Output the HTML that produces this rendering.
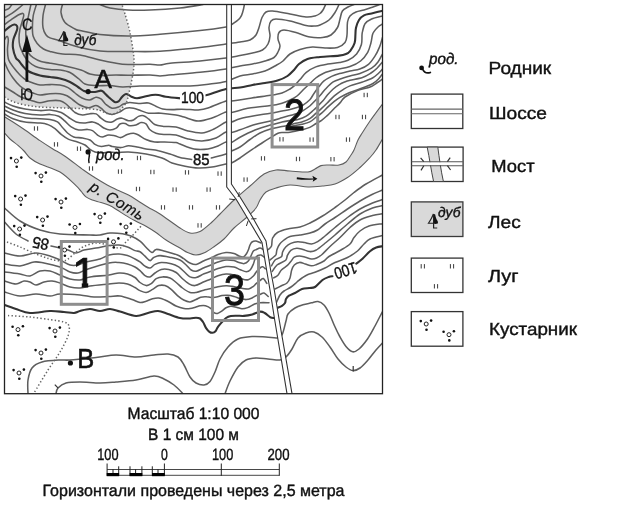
<!DOCTYPE html>
<html lang="ru"><head><meta charset="utf-8"><title>Топографическая карта</title>
<style>
html,body{margin:0;padding:0;background:#fff}
body{width:639px;height:506px;overflow:hidden;font-family:'Liberation Sans',sans-serif}
svg{display:block;filter:grayscale(1)}
text{fill:#111;stroke:#111;stroke-width:.4px}
text.num{stroke-width:.9px}
text.pt{stroke-width:.6px}
text.lt{stroke-width:.2px}
</style></head><body>
<svg width="639" height="506" viewBox="0 0 639 506" font-family="'Liberation Sans', sans-serif" text-rendering="geometricPrecision">
<rect width="639" height="506" fill="#fff"/>
<defs>
<clipPath id="mapclip"><rect x="4.5" y="4.5" width="378.0" height="389.2"/></clipPath>
<g id="mw"><path d="M-1.6 -2.2V2.2M1.6 -2.2V2.2" stroke="#222" stroke-width="0.9" fill="none"/></g>
<g id="bu"><circle r="2" fill="#fff" stroke="#222" stroke-width="1"/><circle cx="-5.4" cy="-2.9" r="1.3" fill="#111"/><circle cx="4.9" cy="-3.4" r="1.3" fill="#111"/><circle cx="0.3" cy="5.7" r="1.3" fill="#111"/></g>
<g id="tree"><path d="M-0.3 -14C-1.2 -11 -3 -8 -5.2 -4.7H0" fill="none" stroke="#222" stroke-width="1.1"/><path d="M-0.5 -14.2L1.6 -13.4C2 -11 2.6 -9 3.7 -7.6C4.4 -6.6 4.5 -5.6 4.2 -4.6L1.8 -3.9L-0.5 -4.4Z" fill="#111"/><path d="M0 -14V0H3.6" fill="none" stroke="#222" stroke-width="1.2"/></g>
</defs>
<g clip-path="url(#mapclip)">
<path d="M4.5 97C5.9 97.8 9.6 100.3 13 101.6C16.4 102.9 20.5 104.1 25 105C29.5 105.9 33.3 106.5 40 107C46.7 107.5 57.7 107.7 65 108C72.3 108.3 78.8 108.5 84 108.7C89.2 108.9 93.2 109.1 96 109.4C98.8 109.8 98.9 110 101 110.8C103.1 111.6 106 113.6 108.5 114C111 114.4 113.8 114 116 113C118.2 112 120.2 109.8 122 108C123.8 106.2 125.5 104.2 126.6 102C127.7 99.8 127.8 97.5 128.5 94.5C129.2 91.5 130.2 88.1 131 84C131.8 79.9 133 74 133.5 70C134 66 134.1 63.3 134 60C133.9 56.7 133.5 53.7 133 50C132.5 46.3 131.7 41.7 131 38C130.3 34.3 130 32 129 28C128 24 126.2 17.9 125 14C123.8 10.1 122.5 6.1 122 4.5L4.5 4.5L4.5 97Z" fill="#d9d9d9"/>
<path d="M4.5 116.7C5.9 117.6 9.6 119.8 13 122C16.4 124.2 20.5 126.9 25 130C29.5 133.1 35.4 137.5 40 140.6C44.6 143.7 48.3 146.1 52.5 148.7C56.7 151.3 59.8 152.6 65 156.2C70.2 159.8 78.5 166.4 83.5 170C88.5 173.6 90.8 175 94.7 177.5C98.7 180 103.5 182.9 107.2 185C111 187.1 113.7 188.3 117.2 190C120.8 191.7 125 193.1 128.5 195C132.1 196.9 135.2 199.1 138.5 201.2C141.8 203.3 144.9 205.4 148.5 207.5C152.1 209.6 154.8 210.6 160 214C165.2 217.4 175 224.8 180 228C185 231.2 186.7 232.4 190 233C193.3 233.6 196.3 233.3 200 231.5C203.7 229.7 208.7 224.9 212 222C215.3 219.1 216.3 217.7 220 214C223.7 210.3 229 204.7 234 200C239 195.3 245 190.3 250 186C255 181.7 259.7 176.7 264 174C268.3 171.3 271.7 170.5 276 170C280.3 169.5 284.7 170.7 290 171C295.3 171.3 303.8 172.3 308 172C312.2 171.7 312.8 170.1 315 169C317.2 167.9 318.7 166.3 321 165.6C323.3 164.9 326 165.1 329 165C332 164.9 336.2 165.5 339 165C341.8 164.5 344 163.7 346 162C348 160.3 349.7 157 351 155C352.3 153 352.8 152.5 354 150C355.2 147.5 356.6 142.9 358 140C359.4 137.1 360.5 135.7 362.5 132.5C364.5 129.3 366.7 125.8 370 121C373.3 116.2 380.4 106.8 382.5 104L382.5 139C381.4 140.8 378.1 146.9 376 150C373.9 153.1 372.7 154.6 370 157.5C367.3 160.4 363.8 164.2 360 167.5C356.2 170.8 351.7 174.8 347.5 177.5C343.3 180.2 339.2 182.6 335 184C330.8 185.4 327 185.5 322.5 186C318 186.5 313.4 187.2 308 187C302.6 186.8 295.3 184.8 290 185C284.7 185.2 280 186.8 276 188C272 189.2 268.7 190 266 192C263.3 194 261.7 197.3 260 200C258.3 202.7 258.3 205 256 208C253.7 211 249.7 214.7 246 218C242.3 221.3 237.7 224.5 234 228C230.3 231.5 227.2 236 224 239C220.8 242 218.2 243.8 215 246C211.8 248.2 208.2 251 205 252.5C201.8 254 198.9 255 196 255C193.1 255 190.2 253.7 187.5 252.5C184.8 251.3 183.6 250.1 180 248C176.4 245.9 170 242.6 166 240C162 237.4 159.3 234.8 156 232.5C152.7 230.2 149.3 228.1 146 226.2C142.7 224.3 139.3 223 136 221.2C132.7 219.4 129.1 217.5 126 215.6C122.9 213.7 119.9 211.7 117.2 210C114.5 208.3 112.4 206.8 109.7 205.6C107 204.3 103.9 203.4 101 202.5C98.1 201.6 94.7 200.9 92.2 200C89.7 199.1 87.9 198.4 86 196.9C84.1 195.4 82.7 193.1 81 191.2C79.3 189.3 79.5 188.8 76 185.6C72.5 182.4 66 175.6 60 172C54 168.4 45 166.3 40 164C35 161.7 32.7 160.2 30 158C27.3 155.8 26 153.1 24 151C22 148.9 20.3 147.4 18 145.4C15.7 143.4 12.2 141.1 10 139C7.8 136.9 5.4 134 4.5 133Z" fill="#d9d9d9" stroke="none"/>
<path d="M4.5 116.7C5.9 117.6 9.6 119.8 13 122C16.4 124.2 20.5 126.9 25 130C29.5 133.1 35.4 137.5 40 140.6C44.6 143.7 48.3 146.1 52.5 148.7C56.7 151.3 59.8 152.6 65 156.2C70.2 159.8 78.5 166.4 83.5 170C88.5 173.6 90.8 175 94.7 177.5C98.7 180 103.5 182.9 107.2 185C111 187.1 113.7 188.3 117.2 190C120.8 191.7 125 193.1 128.5 195C132.1 196.9 135.2 199.1 138.5 201.2C141.8 203.3 144.9 205.4 148.5 207.5C152.1 209.6 154.8 210.6 160 214C165.2 217.4 175 224.8 180 228C185 231.2 186.7 232.4 190 233C193.3 233.6 196.3 233.3 200 231.5C203.7 229.7 208.7 224.9 212 222C215.3 219.1 216.3 217.7 220 214C223.7 210.3 229 204.7 234 200C239 195.3 245 190.3 250 186C255 181.7 259.7 176.7 264 174C268.3 171.3 271.7 170.5 276 170C280.3 169.5 284.7 170.7 290 171C295.3 171.3 303.8 172.3 308 172C312.2 171.7 312.8 170.1 315 169C317.2 167.9 318.7 166.3 321 165.6C323.3 164.9 326 165.1 329 165C332 164.9 336.2 165.5 339 165C341.8 164.5 344 163.7 346 162C348 160.3 349.7 157 351 155C352.3 153 352.8 152.5 354 150C355.2 147.5 356.6 142.9 358 140C359.4 137.1 360.5 135.7 362.5 132.5C364.5 129.3 366.7 125.8 370 121C373.3 116.2 380.4 106.8 382.5 104" fill="none" stroke="#5e5e5e" stroke-width="1.1"/>
<path d="M4.5 133C5.4 134 7.8 136.9 10 139C12.2 141.1 15.7 143.4 18 145.4C20.3 147.4 22 148.9 24 151C26 153.1 27.3 155.8 30 158C32.7 160.2 35 161.7 40 164C45 166.3 54 168.4 60 172C66 175.6 72.5 182.4 76 185.6C79.5 188.8 79.3 189.3 81 191.2C82.7 193.1 84.1 195.4 86 196.9C87.9 198.4 89.7 199.1 92.2 200C94.7 200.9 98.1 201.6 101 202.5C103.9 203.4 107 204.3 109.7 205.6C112.4 206.8 114.5 208.3 117.2 210C119.9 211.7 122.9 213.7 126 215.6C129.1 217.5 132.7 219.4 136 221.2C139.3 223 142.7 224.3 146 226.2C149.3 228.1 152.7 230.2 156 232.5C159.3 234.8 162 237.4 166 240C170 242.6 176.4 245.9 180 248C183.6 250.1 184.8 251.3 187.5 252.5C190.2 253.7 193.1 255 196 255C198.9 255 201.8 254 205 252.5C208.2 251 211.8 248.2 215 246C218.2 243.8 220.8 242 224 239C227.2 236 230.3 231.5 234 228C237.7 224.5 242.3 221.3 246 218C249.7 214.7 253.7 211 256 208C258.3 205 258.3 202.7 260 200C261.7 197.3 263.3 194 266 192C268.7 190 272 189.2 276 188C280 186.8 284.7 185.2 290 185C295.3 184.8 302.6 186.8 308 187C313.4 187.2 318 186.5 322.5 186C327 185.5 330.8 185.4 335 184C339.2 182.6 343.3 180.2 347.5 177.5C351.7 174.8 356.2 170.8 360 167.5C363.8 164.2 367.3 160.4 370 157.5C372.7 154.6 373.9 153.1 376 150C378.1 146.9 381.4 140.8 382.5 139" fill="none" stroke="#5e5e5e" stroke-width="1.1"/>
<g fill="none" stroke="#5e5e5e" stroke-width="1.55" stroke-linecap="round" stroke-linejoin="round">
<path d="M4.5 10.3C5.2 10 7.5 9.7 8.7 8.7C9.9 7.7 11.4 5.2 11.9 4.5"/>
<path d="M4.5 17.8C5.7 17.1 9.6 14.9 11.9 13.4C14.2 11.9 16.3 10.2 18.2 8.7C20.1 7.2 22.2 5.2 23 4.5"/>
<path d="M100 4.5C101.7 5.1 105.3 7.1 110 8C114.7 8.9 121.3 9.7 128 10C134.7 10.3 141.3 10.3 150 10C158.7 9.7 171.2 8.9 180 8C188.8 7.1 199.2 5.1 203 4.5"/>
<path d="M62.5 4.5C62.2 5.8 60.6 9.5 61 12.5C61.4 15.5 62.7 19.8 65 22.5C67.3 25.2 72.5 27.6 75 29C77.5 30.4 75.8 29.7 80 30.6C84.2 31.5 92 33.6 100 34.5C108 35.4 118 36 128 36C138 36 148 35.2 160 34.3C172 33.4 189 31.8 200 30.6C211 29.4 220.8 27.9 226 27C231.2 26.1 228.7 26.5 231 25C233.3 23.5 238 20.3 240 18C242 15.7 242.3 13.2 243 11C243.7 8.8 244.2 5.6 244.4 4.5"/>
<path d="M45.5 4.5C45.1 6.4 43.4 11.9 43 15.8C42.6 19.7 42.5 24.5 43 27.7C43.5 30.9 44.7 33 45.9 34.7C47.1 36.4 47.8 36.9 50 37.9C52.2 38.9 54 39 59 40.6C64 42.2 73.2 45.8 80 47.5C86.8 49.2 92 50.3 100 51C108 51.7 118 51.5 128 51.5C138 51.5 148 52 160 51.3C172 50.6 189 48.7 200 47.5C211 46.3 219.3 44.9 226 44C232.7 43.1 236 42.7 240 42C244 41.3 247.3 41.2 250 40C252.7 38.8 254.5 37.1 256 35C257.5 32.9 258 30.4 259 27.5C260 24.6 260.8 20.1 262 17.5C263.2 14.9 264.2 13.1 266 12C267.8 10.9 268.5 10.7 272.5 11C276.5 11.3 284.4 13 290 14C295.6 15 301.8 16.7 306 17C310.2 17.3 312.7 16.6 315 16C317.3 15.4 318.7 14.5 320 13.5C321.3 12.5 322.1 11.5 323 10C323.9 8.5 325.2 5.4 325.6 4.5"/>
<path d="M36.4 4.5C35.9 6.4 33.9 11.9 33.2 15.8C32.5 19.7 32.4 24.3 32.4 27.7C32.4 31.1 32.4 33.7 33.2 36.3C34 38.9 35.5 41.3 37.2 43.4C38.9 45.5 41.4 47.7 43.5 49C45.6 50.3 46.8 50.6 50 51.4C53.2 52.2 57.5 53.4 62.5 54C67.5 54.6 73.8 54 80 55C86.2 56 94.2 58.7 100 60C105.8 61.3 110.3 62.2 115 63C119.7 63.8 122.2 64.3 128 64.5C133.8 64.7 144.7 64.2 150 64.3C155.3 64.4 156.7 65.2 160 65C163.3 64.8 163.3 64 170 63.3C176.7 62.6 190.7 61.9 200 61C209.3 60.1 219.3 58.9 226 58C232.7 57.1 235.6 56.4 240 55.6C244.4 54.8 248.8 53.9 252.5 53C256.2 52.1 259.9 51.5 262.5 50C265.1 48.5 266.8 46.3 268 44C269.2 41.7 269.8 38.8 270 36C270.2 33.2 268.8 30 269 27.5C269.2 25 269.8 22.4 271 21C272.2 19.6 272.8 19 276 19C279.2 19 285 19.9 290 21C295 22.1 301.8 24.8 306 25.6C310.2 26.4 312.7 26.1 315 26C317.3 25.9 317.7 26 320 25C322.3 24 326.5 22.1 329 20C331.5 17.9 333.3 15.1 335 12.5C336.7 9.9 338.3 5.8 339 4.5"/>
<path d="M30.9 4.5C30.5 6.4 29.3 11.9 28.5 15.8C27.7 19.7 26.4 23.7 26 27.7C25.6 31.7 25.8 36.2 26 39.6C26.2 43 26.6 45.8 27 48C27.4 50.2 27.5 51.4 28.5 53C29.5 54.6 31.1 56.3 33.2 57.7C35.3 59.1 38.2 60.7 41 61.6C43.8 62.5 46 62.5 50 63.2C54 63.9 59.8 64.9 65 66C70.2 67.1 76.8 68.7 81 70C85.2 71.3 86.7 73.1 90 74C93.3 74.9 96.7 75.4 101 75.6C105.3 75.8 111.5 75 116 75C120.5 75 122.3 75.3 128 75.3C133.7 75.3 144.7 74.9 150 75C155.3 75.1 156.3 76 160 76C163.7 76 165.3 75.3 172 74.7C178.7 74.1 191 73.2 200 72.3C209 71.3 219.3 70 226 69C232.7 68 235.6 66.8 240 66C244.4 65.2 248.3 64.8 252.5 64C256.7 63.2 261.4 62.1 265 61C268.6 59.9 271.8 59 274 57.5C276.2 56 277 53.9 278 52C279 50.1 280 48.2 280 46C280 43.8 278.2 41.2 278 39C277.8 36.8 278 34 279 32.5C280 31 281.2 30 284 30C286.8 30 291.7 31.3 296 32.5C300.3 33.7 305.6 36.2 310 37C314.4 37.8 319 37.8 322.5 37.5C326 37.2 328.5 36.7 331 35C333.5 33.3 336 30.2 337.5 27.5C339 24.8 339.2 21.8 340 19C340.8 16.2 341.1 13 342.4 11C343.7 9 346.1 8.1 348 7C349.9 5.9 353 4.9 354 4.5"/>
<path d="M4.5 24.5C5.6 23.7 8.7 21.4 11 19.8C13.3 18.2 16.2 16.1 18.2 15C20.2 13.9 22.1 13.3 23 13.4C23.9 13.5 23.8 14.5 23.7 15.8C23.6 17.1 22.8 19 22.2 21.4C21.6 23.8 20.3 27.2 19.8 30C19.3 32.8 19 35.4 19 38C19 40.6 19.1 43.2 19.8 45.8C20.5 48.4 22 51.6 23 53.7C24 55.8 25.1 57.2 26 58.5C26.9 59.8 26.9 60.3 28.5 61.6C30.1 62.9 32 65.1 35.6 66.4C39.2 67.7 45.9 69 50 69.6C54.1 70.2 56.7 69.5 60 70C63.3 70.5 66.8 71 70 72.5C73.2 74 76.5 77.1 79 79C81.5 80.9 82.3 82.9 85 84C87.7 85.1 90.8 85.3 95 85.6C99.2 85.9 105.4 85.4 110 85.6C114.6 85.8 117.5 86.9 122.5 87C127.5 87.1 133.8 86.2 140 86C146.2 85.8 151.7 86 160 86C168.3 86 181.7 86.2 190 85.9C198.3 85.6 204 84.7 210 84C216 83.3 221 82.8 226 81.5C231 80.2 235.6 77.2 240 76C244.4 74.8 248.3 74.8 252.5 74C256.7 73.2 261.2 72.3 265 71C268.8 69.7 272 67.7 275 66C278 64.3 280.5 63 283 61C285.5 59 287.2 55.9 290 54C292.8 52.1 296.2 50.7 300 49.5C303.8 48.3 308.3 47.2 312.5 47C316.7 46.8 320.8 47.9 325 48C329.2 48.1 334.2 48.4 337.5 47.5C340.8 46.6 343.4 44.6 345 42.5C346.6 40.4 346.6 38.4 347 35C347.4 31.6 347 25.2 347.5 22C348 18.8 348.6 17.7 350 16C351.4 14.3 353.7 13 356 12C358.3 11 361.2 10.8 364 10C366.8 9.2 370.4 7.9 373 7C375.6 6.1 378.4 4.9 379.5 4.5"/>
<path d="M4.5 39.6C4.9 39 6.4 36.2 7 36.3C7.6 36.4 8.2 38 8.3 40.3C8.4 42.5 7.4 46.5 7.5 49.8C7.6 53.1 7.6 57 8.7 60C9.8 63 12.1 65.5 14 68C15.9 70.5 18 73 20 75C22 77 23.8 78.7 26 80C28.2 81.3 30.7 82.2 33 83C35.3 83.8 37.2 84.7 40 85C42.8 85.3 46.7 84.6 50 84.6C53.3 84.6 57 84.5 60 85C63 85.5 65.5 86.3 68 87.6C70.5 88.9 72.7 91.3 75 93C77.3 94.7 79.6 96.8 82 98C84.4 99.2 87.1 100.1 89.4 100C91.7 99.9 94.1 97.4 96 97.2C97.9 97 99.3 97.7 101 98.9C102.7 100.1 104.2 103 106 104.5C107.8 106 109.9 107.8 112 108.2C114.1 108.6 116.6 107.7 118.5 107C120.4 106.3 121.6 104.7 123.5 104C125.4 103.3 127.2 102.7 129.7 102.6C132.2 102.5 135.4 103.4 138.5 103.5C141.6 103.6 145.5 102.5 148.5 103C151.5 103.5 153.9 105.5 156.3 106.5C158.7 107.5 160.1 108.5 162.7 109C165.3 109.5 168.8 109.6 172 109.6C175.2 109.6 178.6 109.2 181.6 109.2C184.6 109.2 187.3 109.5 190 109.6C192.7 109.7 195 110.3 198 110C201 109.7 203.3 109.5 208 108C212.7 106.5 222.1 102.2 226 101C229.9 99.8 227.2 101.5 231.5 101C235.8 100.5 245.3 99 251.8 98C258.3 97 265.4 96.1 270.4 95.3C275.4 94.5 278.7 94 282 92.9C285.3 91.9 287.8 90.3 290 89C292.2 87.7 293.3 86.6 295 85C296.7 83.4 298.1 81.6 300 79.5C301.9 77.4 303.7 74.5 306.3 72.4C308.9 70.3 312.2 68.3 315.8 66.9C319.4 65.5 323.7 64.8 327.7 64.1C331.7 63.4 336.2 63.1 339.6 62.5C343 61.9 345.2 61.7 348 60.3C350.8 58.9 354.4 56.6 356.6 54C358.8 51.4 360.5 47.7 361.4 44.5C362.3 41.3 361.8 37.1 362 35C362.2 32.9 362 33.5 362.5 31.6C363 29.7 363.5 25.8 365 23.7C366.5 21.6 368.7 20.3 371.6 19C374.5 17.7 380.7 16.5 382.5 16"/>
<path d="M4.5 62C5.1 63.3 6.6 67.3 8 70C9.4 72.7 11 75.3 13 78C15 80.7 17.8 84 20 86C22.2 88 23.8 88.8 26 90C28.2 91.2 30.7 92.2 33 93C35.3 93.8 37.2 94.9 40 95C42.8 95.1 46.7 93.9 50 93.7C53.3 93.5 57.2 93.4 60 93.7C62.8 94 64.8 94.7 67 95.7C69.2 96.8 70.8 98.5 73 100C75.2 101.5 77.4 103.7 80 105C82.6 106.3 85.7 107.7 88.4 107.8C91.1 107.9 93.9 105.4 96 105.5C98.1 105.6 99.3 107 101 108.2C102.7 109.4 104.2 111.5 106 112.6C107.8 113.6 109.7 114.6 112 114.5C114.3 114.4 117.4 113 119.7 112C122 111 123.7 108.8 126 108.2C128.3 107.6 131 107.8 133.5 108.2C136 108.6 138.5 109.9 141 110.7C143.5 111.5 145.2 112.8 148.5 113.2C151.8 113.6 156.4 112.9 161 113.2C165.6 113.5 172.2 114.4 176 115C179.8 115.6 180.3 116 184 117C187.7 118 193.3 120.8 198 121C202.7 121.2 207.3 119.5 212 118C216.7 116.5 222.8 112.9 226 112C229.2 111.1 227.9 113.1 231.5 112.5C235.1 111.9 241.3 109.5 247.8 108.3C254.3 107.1 264.7 106.4 270.4 105.6C276.1 104.8 278.7 104.1 282 103.2C285.3 102.3 287.5 101.2 290 100C292.5 98.8 294.8 97.7 297 96C299.2 94.3 300.8 92.2 303 90C305.2 87.8 308.2 85.1 310.3 83.1C312.4 81.1 313.6 79.7 315.8 78C318 76.3 320.4 74.6 323.7 73.2C327 71.8 331.2 70.7 335.6 69.6C340 68.5 345.8 67.9 350 66.5C354.2 65.1 357.7 63.4 360.6 61C363.6 58.6 366 55.4 367.7 52.4C369.4 49.4 370.1 45.9 370.9 43C371.7 40.1 371.9 36.9 372.4 35C372.9 33.1 373.1 32.9 374 31.6C374.9 30.3 376.6 28.3 378 27C379.4 25.7 381.8 24.5 382.5 24"/>
<path d="M4.5 87C5.9 87.8 10.2 90.3 13 92C15.8 93.7 17.7 95.5 21 97C24.3 98.5 29.8 100 33 101C36.2 102 37.2 102.8 40 102.8C42.8 102.8 46.7 101 50 100.7C53.3 100.4 57.3 100.2 60 100.7C62.7 101.2 63.5 102 66 104C68.5 106 72.2 110.7 75 112.5C77.8 114.3 80 114.8 82.5 115C85 115.2 87.7 113.9 90 113.7C92.3 113.5 94.4 113.2 96.2 113.9C98 114.7 99.4 117 101 118.2C102.6 119.5 104.2 120.8 106 121.4C107.8 122 110.1 122.4 112 122C113.9 121.6 115.5 119.5 117.2 118.9C118.9 118.3 120.1 117.9 122 118.2C123.9 118.5 126.6 120.4 128.5 120.7C130.4 121 131.8 120.7 133.5 120C135.2 119.3 136.8 117.1 138.5 116.4C140.2 115.7 141.8 115.3 143.5 115.7C145.2 116.1 146.6 117.4 148.5 118.9C150.4 120.4 152.2 123.2 154.7 124.5C157.2 125.8 159.9 126 163.5 126.4C167.1 126.8 171.9 126.2 176 127C180.1 127.8 183.7 130 188 131C192.3 132 197.7 133.3 202 133C206.3 132.7 210 130.8 214 129C218 127.2 223.1 123.2 226 122C228.9 120.8 229.2 122.5 231.5 122C233.8 121.5 236 119.8 240 118.7C244 117.6 250.6 116.4 255.7 115.5C260.8 114.6 266.1 114 270.5 113.2C274.9 112.5 278.8 111.6 282 111C285.2 110.4 287.5 110.1 290 109.5C292.5 108.9 294.9 108.2 297 107.5C299.1 106.8 300.6 106.6 302.7 105.3C304.8 104 308.1 101.4 309.8 99.7C311.5 98 311.5 97.2 313 95C314.5 92.8 317.2 88.9 319 86.6C320.8 84.3 321.6 82.8 323.7 81.1C325.8 79.4 329 77.7 331.6 76.4C334.2 75.2 336.5 74.5 339.6 73.6C342.7 72.7 346.6 71.8 350 71C353.4 70.2 356.7 70.1 359.8 69C362.9 67.9 366 66.4 368.5 64.3C371 62.2 372.9 59.3 374.8 56.4C376.7 53.5 378.3 50.1 379.6 46.9C380.9 43.7 382 39 382.5 37.4"/>
<path d="M4.5 102C5.9 102.7 9.6 104.8 13 106C16.4 107.2 20.5 108.2 25 109C29.5 109.8 35.8 110.4 40 110.6C44.2 110.8 46.5 109.7 50 110C53.5 110.3 58.1 111.2 61.2 112.5C64.3 113.8 66.2 115.9 68.7 117.5C71.2 119.1 73.7 121 76.2 121.9C78.7 122.8 81 123 83.7 123C86.4 123 90 121.7 92.5 121.9C95 122.1 96.8 123.4 98.7 124.4C100.6 125.4 101.8 127.1 103.7 128C105.6 128.9 107.9 130 110 130C112.1 130 114.5 129.2 116.2 128.2C117.9 127.2 118.5 124.8 120 124C121.5 123.2 123.4 123.2 125 123.5C126.6 123.8 127.9 125.5 129.7 125.7C131.5 126 134.1 125.5 136 125C137.9 124.5 139.3 122.8 141 122.6C142.7 122.4 144.6 122.8 146 123.9C147.4 125.1 148 128 149.7 129.5C151.4 131.1 153.5 132.4 156 133.2C158.5 134 161.4 134.2 164.7 134.5C168 134.8 172.1 134.2 176 135C179.9 135.8 183.7 138 188 139C192.3 140 197.3 141.2 202 141C206.7 140.8 212 139.5 216 138C220 136.5 223.4 132.9 226 132C228.6 131.1 229.2 132.9 231.5 132.5C233.8 132.1 236.1 131.1 240 129.8C243.9 128.5 249.9 126 255 124.5C260.1 123 266 122.1 270.5 121C275 119.9 278.8 118.7 282 117.8C285.2 116.9 287.5 116.2 290 115.5C292.5 114.8 294.9 114.3 297 113.5C299.1 112.7 300.6 112 302.7 110.8C304.8 109.5 307.7 107.7 309.8 106C311.9 104.3 313.5 102.3 315.3 100.5C317.1 98.7 318.8 96.9 320.5 95C322.2 93.1 323.4 91.2 325.5 89C327.6 86.8 330.6 83.6 333.2 81.9C335.8 80.2 338.3 79.7 341.1 78.7C343.9 77.7 346.9 76.9 350 76C353.1 75.1 356.4 74.8 360 73.5C363.6 72.2 368.6 70.1 371.6 68.2C374.6 66.3 376.2 64.4 378 62C379.8 59.6 381.8 55.3 382.5 54"/>
<path d="M4.5 106C5.9 106.7 9.6 108.7 13 110C16.4 111.3 20.5 112.8 25 113.6C29.5 114.4 35.8 114.9 40 115C44.2 115.1 46.9 114.2 50 114.4C53.1 114.6 56.2 115.1 58.7 116.2C61.2 117.3 62.9 119.4 65 121.2C67.1 123 68.9 125.4 71.2 126.9C73.5 128.4 76 129.6 78.7 130C81.4 130.4 85.2 129.3 87.5 129.4C89.8 129.5 90.8 129.7 92.5 130.6C94.2 131.5 95.9 133.9 97.5 135C99.1 136.1 100.4 137 102.2 137C104 137 106.4 135.2 108.5 135C110.6 134.8 112.6 135.3 114.7 135.7C116.8 136.1 118.9 137.8 121 137.6C123.1 137.4 125.1 135.2 127.2 134.5C129.3 133.8 131.6 133.1 133.5 133.2C135.4 133.3 136.4 133.9 138.5 135C140.6 136.1 143.3 138.3 146 139.5C148.7 140.7 151.6 141.6 154.7 142C157.8 142.4 161.1 141.9 164.7 142C168.2 142.1 173.4 142.3 176 142.6C178.6 142.9 177 142.9 180 144C183 145.1 189.3 148.2 194 149C198.7 149.8 204 149.5 208 149C212 148.5 215 147.2 218 146C221 144.8 223.8 142.6 226 142C228.2 141.4 229.2 143.3 231.5 142.5C233.8 141.7 236.1 139.4 240 137.3C243.9 135.2 249.9 132.1 255 130C260.1 128 266 126.3 270.5 125C275 123.7 278.8 122.8 282 122C285.2 121.2 287.4 120.9 290 120.5C292.6 120.1 295.3 120.2 297.9 119.5C300.5 118.8 303.2 118 305.8 116.4C308.4 114.8 311.7 111.7 313.7 110C315.7 108.3 316.1 107.6 317.7 106C319.3 104.4 321.6 102.3 323.2 100.5C324.8 98.7 325.7 96.9 327.4 95C329.1 93.1 331.2 90.8 333.2 89C335.2 87.2 337.5 85.5 339.6 84.3C341.7 83 344.2 82.2 345.9 81.5C347.6 80.8 347.2 81 350 80.3C352.8 79.6 359 78.7 362.5 77.5C366 76.3 368.6 74.5 371 73C373.4 71.5 375.1 70 377 68.2C378.9 66.4 381.6 63 382.5 62"/>
<path d="M4.5 110C5.9 110.7 9.6 112.7 13 114C16.4 115.3 20.5 116.9 25 117.7C29.5 118.5 35.8 118.4 40 118.7C44.2 119 47.1 118.9 50 119.4C52.9 119.9 55.4 120.6 57.5 121.9C59.6 123.2 60.8 125.7 62.5 127.5C64.2 129.3 65.6 131.4 67.5 133C69.4 134.6 71.2 136.1 73.7 136.9C76.2 137.7 79.8 137.5 82.5 138C85.2 138.5 87.9 138.9 90 140C92.1 141.1 93.1 143.3 95 144.4C96.9 145.5 98.9 146.3 101.2 146.5C103.5 146.7 106.9 145.3 108.7 145.3C110.5 145.3 110 146 112 146.4C114 146.8 118.2 147.7 121 147.6C123.8 147.5 125.8 145.8 128.5 145.7C131.2 145.6 134.1 146.5 137 147C139.9 147.5 142.4 148.3 146 148.9C149.6 149.5 154.5 149.8 158.5 150.7C162.5 151.5 166.4 152.9 170 154C173.6 155.1 176.3 156.6 180 157.5C183.7 158.4 190 159.2 192 159.5"/>
<path d="M211 158C213.5 157.3 222.6 155.2 226 154C229.4 152.8 229.2 152.2 231.5 151C233.8 149.8 236.9 148.9 240 147C243.1 145.1 246.7 141.8 250 139.5C253.3 137.2 256.6 134.8 260 133C263.4 131.2 266.8 130.1 270.5 129C274.2 127.9 278.8 127.2 282 126.5C285.2 125.8 287.9 125.5 290 125C292.1 124.5 292.7 124 294.7 123.5C296.7 123 299.4 122.7 301.9 121.9C304.4 121.1 307.4 120.2 309.8 118.7C312.2 117.2 314.1 114.9 316.1 113.2C318.1 111.5 319.8 110.1 321.6 108.4C323.5 106.7 325.1 105.1 327.2 103C329.3 100.9 331.7 98 334.3 95.8C336.9 93.6 340.1 91.4 342.7 89.8C345.3 88.2 346.7 87.2 350 85.9C353.3 84.6 358.8 83.3 362.5 82C366.2 80.7 369.8 79.5 372.5 78C375.2 76.5 377.1 74.5 378.8 73C380.5 71.5 381.9 69.7 382.5 69"/>
<path d="M4.5 114C5.9 114.8 9.6 117.4 13 118.7C16.4 120 20.5 121.3 25 122C29.5 122.7 36.2 122.6 40 123C43.8 123.4 45 123.5 47.5 124.4C50 125.4 52.7 127 55 128.7C57.3 130.4 58.9 132.6 61.2 134.4C63.5 136.2 66 138.2 68.7 139.4C71.4 140.7 74.8 141 77.5 141.9C80.2 142.8 82.9 143.8 85 145C87.1 146.2 88.3 148.2 90 149.4C91.7 150.6 92.9 151.3 95 151.9C97.1 152.5 100.2 153 102.5 153C104.8 153 106.1 152.1 108.5 152C110.9 151.9 113.7 152.6 117 152.6C120.3 152.6 123.7 151.8 128.5 152C133.3 152.2 140.4 152.9 146 153.9C151.6 154.9 157.7 156.5 162 158C166.3 159.5 168.3 161.7 172 163C175.7 164.3 179.7 165.2 184 166C188.3 166.8 193.3 167.8 198 168C202.7 168.2 207.3 167.7 212 167C216.7 166.3 222.8 164.7 226 164C229.2 163.3 229.2 164 231.5 163C233.8 162 236.6 160.2 240 158C243.4 155.8 248.2 152.1 251.9 149.6C255.6 147.1 258.9 145 262 143C265.1 141 267.8 139.3 270.5 137.7C273.2 136.1 275.8 134.2 278 133.3C280.2 132.4 281.5 132.7 283.5 132.5C285.5 132.3 286.9 132.6 290 132.2C293.1 131.8 298.6 130.6 301.9 129.8C305.2 129 307.4 128.5 309.8 127.4C312.2 126.4 314.1 124.7 316.1 123.5C318.1 122.3 319.8 121.6 321.6 120.3C323.5 119 325.2 117.4 327.2 115.6C329.2 113.8 331.4 111.3 333.5 109.2C335.6 107.1 338.1 104.9 340 102.9C341.9 100.9 342.1 99 345 97C347.9 95 353.3 92.3 357.5 90.6C361.7 88.9 366.7 88.3 370 87C373.3 85.7 375.4 83.8 377.5 82.5C379.6 81.2 381.7 79.6 382.5 79"/>
<path d="M289 127.5C289.6 127.2 290.2 126.4 292.4 125.9C294.5 125.4 299 125 301.9 124.3C304.8 123.6 307.4 123.1 309.8 121.9C312.2 120.7 314.1 118.7 316.1 117.2C318.1 115.8 319.6 114.9 321.6 113.2C323.6 111.5 325.9 108.9 328 106.9C330.1 104.9 332.3 102.9 334.3 101.3C336.3 99.7 337.8 98.7 340 97.4C342.2 96.1 344.7 94.7 347.5 93.5C350.3 92.3 354.1 91.1 357 90C359.9 88.9 362.3 88.1 365 87C367.7 85.9 370.8 84.8 373 83.5C375.2 82.2 376.9 80.6 378.5 79C380.1 77.4 381.8 74.8 382.5 74"/>
<path d="M4.5 208C7.1 210.2 14.1 217.3 20 221C25.9 224.7 33.3 227.8 40 230C46.7 232.2 51.7 233.2 60 234C68.3 234.8 83.3 234.8 90 235C96.7 235.2 96.7 235.3 100 235C103.3 234.7 106.2 233.2 110 233C113.8 232.8 119 233.2 122.5 233.7C126 234.2 128.1 234.8 131 236C133.9 237.2 137.5 239.3 140 241.2C142.5 243.1 144.2 245.6 146.2 247.5C148.2 249.4 150.2 252.2 151.9 252.5C153.6 252.8 154 249.6 156.2 249.4C158.4 249.2 161.4 250.3 165 251.2C168.6 252.1 174.4 253.8 177.5 255C180.6 256.2 181.6 257.4 183.7 258.7C185.8 260 187.9 262.1 190 263C192.1 263.9 193.9 264.8 196.2 264.4C198.5 264 201.5 261.8 204 260.7C206.5 259.6 208.7 259 211 258C213.3 257 215.5 255.4 218 254.5C220.5 253.6 223.3 252.7 226 252.5C228.7 252.3 231.8 252.9 234 253.5C236.2 254.1 237.4 255.4 239 256C240.6 256.6 242.1 257.3 243.3 257C244.5 256.7 245.5 255.2 246.3 254C247.1 252.8 247.7 251.5 248.3 250C248.9 248.5 249.4 246.3 250 245C250.6 243.7 251 242.7 252 242C253 241.3 254.5 240.8 256 241C257.5 241.2 260.2 242.7 261 243"/>
<path d="M4.5 222C6.4 224 12.1 230.8 16 234C19.9 237.2 26 239.8 28 241"/>
<path d="M51 246C52.5 246.3 57.2 247.3 60 248C62.8 248.7 65.3 249.2 68 250C70.7 250.8 73.3 253 76 253C78.7 253 80.7 250.8 84 250C87.3 249.2 91.8 248.7 96 248C100.2 247.3 105.2 246.1 109 245.6C112.8 245.1 115.9 244.8 119 245C122.1 245.2 124.8 246.1 127.5 247C130.2 247.9 132.9 249.8 135 250.6C137.1 251.4 138.3 250.8 140 251.7C141.7 252.6 143.3 254.7 145 256.2C146.7 257.7 148.6 260.4 150 260.6C151.4 260.8 152 258.3 153.7 257.5C155.4 256.7 157.1 255.6 160 255.6C162.9 255.6 167.9 256.8 171.2 257.5C174.5 258.2 177.5 258.8 180 260C182.5 261.2 184.3 263.3 186.2 265C188.1 266.7 189.5 269 191.2 270C192.9 271 194.1 271.6 196.2 271.2C198.3 270.8 201.5 268.8 204 267.8C206.5 266.8 208.7 266 211 265C213.3 264 215.5 262.8 218 262C220.5 261.2 223.3 260.2 226 260C228.7 259.8 231.8 260.2 234 260.6C236.2 261 237.3 262.1 239 262.6C240.7 263.1 242.8 263.9 244.3 263.6C245.9 263.3 247.1 262.4 248.3 261C249.5 259.6 250.6 256.7 251.4 255C252.2 253.3 252.6 251.9 253.4 251C254.2 250.1 255.3 250 256.4 249.5C257.5 249 258.9 248 260 248C261.1 248 262.5 249.2 263 249.5"/>
<path d="M4.5 253C7.1 253.5 14.8 256 20 256C25.2 256 31 253 36 253C41 253 46 254.8 50 256C54 257.2 56.7 258.5 60 260C63.3 261.5 67 264.2 70 265C73 265.8 75.3 265.5 78 265C80.7 264.5 82.3 263 86 262C89.7 261 96.2 260.2 100 259C103.8 257.8 105.8 255.8 109 255C112.2 254.2 115.9 253.9 119 254C122.1 254.1 124.8 254.8 127.5 255.6C130.2 256.4 132.9 257.9 135 259C137.1 260.1 138.3 260.7 140 261.9C141.7 263.1 143.3 265.2 145 266.2C146.7 267.2 148.3 268.3 150 268C151.7 267.7 153.1 265.3 155 264.4C156.9 263.5 158.5 262.6 161.2 262.5C163.9 262.4 168.3 263 171.2 263.7C174.1 264.4 176.4 265.4 178.7 266.9C181 268.4 183.1 270.8 185 272.5C186.9 274.2 188.1 276.1 190 276.9C191.9 277.7 193.9 278 196.2 277.5C198.5 277 201.5 274.8 204 273.8C206.5 272.8 208.7 272.2 211 271.3C213.3 270.4 215.5 269.4 218 268.6C220.5 267.8 223.3 266.9 226 266.6C228.7 266.3 231.6 266.5 234 267C236.4 267.5 238.2 268.9 240.3 269.7C242.4 270.5 244.6 271.7 246.3 271.7C248 271.7 249.2 271 250.4 269.7C251.6 268.4 252.6 265.9 253.4 264C254.2 262.1 254.6 259.4 255.4 258C256.2 256.6 257.1 256 258 255.5C258.9 255 260 254.8 261 255C262 255.2 263.5 256.7 264 257"/>
<path d="M4.5 264C7.1 264.3 15.1 266.3 20 266C24.9 265.7 30 262.5 34 262C38 261.5 39.7 262.2 44 263C48.3 263.8 55.7 265.5 60 267C64.3 268.5 67 271 70 272C73 273 75 273.5 78 273C81 272.5 82.8 270.7 88 269C93.2 267.3 103.8 264.1 109 263C114.2 261.9 115.9 262.3 119 262.5C122.1 262.7 124.8 263.2 127.5 264C130.2 264.8 132.9 265.9 135 267C137.1 268.1 138.3 269.2 140 270.6C141.7 272 143.3 274.6 145 275.6C146.7 276.7 148.3 277.3 150 276.9C151.7 276.5 153.1 274.2 155 273C156.9 271.8 158.9 270 161.2 269.4C163.5 268.8 166.2 268.9 168.7 269.4C171.2 269.9 173.9 270.9 176.2 272.5C178.5 274.1 180.4 276.8 182.5 278.7C184.6 280.6 186.6 282.5 188.7 283.7C190.8 284.9 192.4 285.9 195 285.6C197.6 285.3 201.3 282.9 204 281.8C206.7 280.7 208.7 280 211 279C213.3 278 215.5 276.5 218 275.7C220.5 274.9 223.3 274.1 226 274C228.7 273.9 231.3 274.2 234 275C236.7 275.8 239.9 278.2 242.3 279C244.7 279.8 246.5 280.2 248.3 279.7C250.2 279.2 252.1 277.3 253.4 276C254.8 274.7 255.3 273 256.4 271.7C257.5 270.4 258.9 268.8 260 268C261.1 267.2 261.8 266.7 262.7 266.8C263.6 266.9 264.9 268.5 265.4 268.8"/>
<path d="M4.5 272C7.1 272.3 15.8 273.3 20 274C24.2 274.7 26.7 276.5 30 276C33.3 275.5 36.7 271.8 40 271C43.3 270.2 46.7 270.3 50 271C53.3 271.7 56.7 273.7 60 275C63.3 276.3 66.7 278.2 70 279C73.3 279.8 76.7 280.3 80 280C83.3 279.7 85.2 277.8 90 277C94.8 276.2 104.2 275.7 109 275C113.8 274.3 115.9 273.2 119 273C122.1 272.8 124.8 273.2 127.5 274C130.2 274.8 132.9 276.1 135 277.5C137.1 278.9 138.1 281.1 140 282.5C141.9 283.9 144.3 285.4 146.2 285.6C148.1 285.8 149.5 284.9 151.2 283.7C152.9 282.5 154.3 279.8 156.2 278.7C158.1 277.6 160.2 277 162.5 276.9C164.8 276.8 167.7 277.1 170 278C172.3 278.9 174.1 280.8 176.2 282.5C178.3 284.2 180.2 286.3 182.5 288C184.8 289.7 187.7 291.8 190 292.5C192.3 293.2 193.7 292.9 196.2 292.5C198.7 292.1 202.5 290.5 205 289.8C207.5 289.1 208.8 289 211 288.5C213.2 288 215.5 287.2 218 286.8C220.5 286.4 223.7 285.9 226 285.8C228.3 285.7 230 286 232 286.3C234 286.6 235.9 287.1 238 287.5C240.1 287.9 242.4 288.6 244.3 288.8C246.2 289 247.8 289.2 249.3 288.8C250.8 288.4 252.2 287.2 253.4 286.3C254.6 285.4 255.3 284.2 256.4 283.3C257.5 282.4 258.8 281.4 260 280.6C261.2 279.8 262.3 278 263.4 278.5C264.5 279 266.2 282.6 266.8 283.4"/>
<path d="M4.5 281C6.4 281.5 12.8 284 16 284C19.2 284 21.7 281.3 24 281C26.3 280.7 28 281.3 30 282C32 282.7 33.7 285 36 285C38.3 285 41.3 282.7 44 282C46.7 281.3 49.3 280.8 52 281C54.7 281.2 57 282 60 283C63 284 66.7 286.2 70 287C73.3 287.8 76.7 288.2 80 288C83.3 287.8 85.2 286.7 90 286C94.8 285.3 104.2 284.5 109 284C113.8 283.5 115.9 283 119 283C122.1 283 124.8 283.2 127.5 284C130.2 284.8 132.9 286.4 135 287.5C137.1 288.6 138.1 289.8 140 290.6C141.9 291.4 144.1 292.7 146.2 292.5C148.3 292.3 150.4 290.5 152.5 289.4C154.6 288.2 156.6 286.2 158.7 285.6C160.8 285 162.9 285 165 285.6C167.1 286.2 169.1 287.7 171.2 289.4C173.3 291.1 175.4 293.8 177.5 295.6C179.6 297.4 181.6 298.9 183.7 300C185.8 301.1 187.9 302 190 301.9C192.1 301.8 194.2 300.3 196 299.5C197.8 298.7 199 297.7 200.7 297.2C202.4 296.7 204.6 296.6 206.3 296.7C208 296.8 209.3 297.4 211 297.5C212.7 297.6 214.8 297.3 216.6 297C218.4 296.7 220.2 295.9 222 295.6C223.8 295.3 225.6 295.2 227.6 295.3C229.6 295.4 231.9 295.9 234 296.4C236.1 296.9 237.9 298 240 298.5C242.1 299 244.2 299.7 246.3 299.6C248.4 299.5 250.7 298.5 252.4 297.8C254.1 297.1 255.1 296.1 256.4 295.5C257.7 294.9 258.7 294.8 260 294.4C261.3 294 262.6 292.6 264 293C265.4 293.4 267.5 295.9 268.2 296.5"/>
<path d="M4.5 292C7.1 292.7 14.8 295.7 20 296C25.2 296.3 31 294 36 294C41 294 46 296 50 296C54 296 55 294.2 60 294C65 293.8 74.3 294.5 80 295C85.7 295.5 89.2 296.8 94 297C98.8 297.2 104.7 296.7 109 296.5C113.3 296.3 116.2 295.5 120 296C123.8 296.5 128.7 298.4 132 299.5C135.3 300.6 137.6 302.2 140 302.5C142.4 302.8 144.1 301.8 146.2 301.2C148.3 300.6 150.4 299.2 152.5 298.7C154.6 298.2 156.6 297.8 158.7 298C160.8 298.2 163.1 299.2 165 300C166.9 300.8 168.2 301.5 170 302.5C171.8 303.5 173.7 305 176 306C178.3 307 181.7 308.1 184 308.5C186.3 308.9 188 308.9 190 308.6C192 308.4 194.3 307.5 196 307C197.7 306.5 198.4 306 200 305.8C201.6 305.6 203.7 305.3 205.5 305.8C207.3 306.3 209.6 307.5 211 308.6C212.4 309.7 212.9 311.8 214 312.6C215.1 313.4 216.2 313.6 217.4 313.4C218.6 313.2 219.9 312.3 221.3 311.4C222.7 310.5 224.4 308.7 226 307.8C227.6 306.9 229 306.3 230.8 306.2C232.6 306.1 235.1 307 237 307.4C238.9 307.8 240.2 308.8 242 308.8C243.8 308.8 245.6 308.4 247.7 307.6C249.8 306.8 252.5 304.8 254.6 304C256.6 303.2 257.6 302.9 260 302.7C262.4 302.5 267.5 302.7 269 302.7"/>
<path d="M268.4 249.5C268.9 248.9 270.8 247.9 271.5 246C272.2 244.1 271.6 240.2 272.6 238C273.6 235.8 275 234 277.5 232.5C280 231 283.8 229.9 287.5 229C291.2 228.1 296.2 228 300 227C303.8 226 306.2 224.8 310 223C313.8 221.2 318.3 218.6 322.5 216C326.7 213.4 331.2 210.2 335 207.5C338.8 204.8 341.8 202.5 345 200C348.2 197.5 350.5 195.2 354 192.5C357.5 189.8 361.2 186.9 366 184C370.8 181.1 379.8 176.5 382.5 175"/>
<path d="M270 260C270.6 259.5 272.6 257.9 273.6 257C274.6 256.1 275.4 255.8 276 254.6C276.6 253.3 276.4 251.2 277 249.5C277.6 247.8 278.4 245.9 279.6 244.3C280.8 242.7 282.3 241.3 284 240C285.7 238.7 287.3 237.3 290 236.5C292.7 235.7 296.7 235.6 300 235C303.3 234.4 307.1 233.8 310 233C312.9 232.2 315 231.5 317.5 230C320 228.5 322.1 226.1 325 224C327.9 221.9 331.2 220 335 217.5C338.8 215 343.3 211.8 347.5 209C351.7 206.2 355.9 203.4 360 201C364.1 198.6 368.2 196.3 372 194.5C375.8 192.7 380.8 190.8 382.5 190"/>
<path d="M271.5 265.8C272.1 264.8 273.7 261.3 275.3 259.8C276.9 258.3 280.2 258.1 281.4 256.8C282.6 255.5 281.9 253.6 282.6 252C283.3 250.4 284.3 248.4 285.7 247C287.1 245.6 288.8 244.3 290.8 243.4C292.8 242.5 295.4 241.8 297.7 241.7C300 241.6 302.3 242.2 304.6 242.6C306.9 243 309.5 244 311.5 243.9C313.5 243.8 314.4 243.5 316.6 242.2C318.9 240.9 321.9 238.4 325 236C328.1 233.6 331.2 230.6 335 227.5C338.8 224.4 343.3 220.6 347.5 217.5C351.7 214.4 355.8 211.4 360 209C364.2 206.6 368.8 204.6 372.5 203C376.2 201.4 380.8 200.1 382.5 199.5"/>
<path d="M272.3 271.4C273.1 270.3 274.8 266.9 277 265C279.2 263.1 284 261.8 285.7 260.2C287.4 258.6 286.5 257.1 287.4 255.5C288.2 253.8 289.2 251.5 290.8 250.3C292.4 249.1 294.8 248.3 296.8 248.2C298.8 248.1 300.7 248.9 302.9 249.5C305.1 250.1 307.6 251.5 309.8 251.6C312 251.7 313.1 251.8 315.8 250.3C318.5 248.8 322.8 245.1 326 242.5C329.2 239.9 331.4 238.1 335 235C338.6 231.9 343.3 227.5 347.5 224C351.7 220.5 355.8 216.7 360 214C364.2 211.3 368.8 209.4 372.5 208C376.2 206.6 380.8 206 382.5 205.6"/>
<path d="M273.6 277.9C274.3 277.5 276.6 276.6 277.9 275.3C279.2 274 279.8 271.6 281.4 270C283 268.4 285.8 266.8 287.4 265.4C289 264 289.6 262.9 290.8 261.5C292 260.1 292.9 258.1 294.3 257.2C295.7 256.3 297.5 255.9 299.4 255.9C301.2 255.9 303.4 256.7 305.4 257.2C307.4 257.7 309.6 258.8 311.5 258.9C313.4 259 314.9 258.7 316.6 258C318.4 257.3 319.8 256.4 322 254.5C324.2 252.6 327 249.3 330 246.5C333 243.7 336.7 240.7 340 237.5C343.3 234.3 346.7 230.4 350 227.5C353.3 224.6 356.2 222 360 220C363.8 218 368.8 216.7 372.5 215.6C376.2 214.5 380.8 214 382.5 213.7"/>
<path d="M275 289C276 288.5 279 287 281 286C283 285 285.5 284.4 287 283C288.5 281.6 289.2 280.1 290 277.9C290.8 275.7 291 272.1 291.7 270C292.4 267.9 293 266.3 294.3 265C295.6 263.7 297.5 262.6 299.4 262.4C301.2 262.2 303.4 263.4 305.4 264C307.4 264.6 309.6 265.7 311.5 265.8C313.4 265.9 314.5 265.3 316.6 264.5C318.7 263.7 321.9 262.3 324 261C326.1 259.7 326.2 258.3 329 256.5C331.8 254.7 337.5 252.1 341 250C344.5 247.9 347.8 246.1 350 244C352.2 241.9 352.3 239.7 354 237.5C355.7 235.3 357.5 232.9 360 231C362.5 229.1 365.2 227.2 369 226C372.8 224.8 380.2 224.1 382.5 223.7"/>
<path d="M276.7 302C277.2 300.8 278.8 296.8 280 295C281.2 293.2 282.2 292.3 284 291C285.8 289.7 288.8 288.5 291 287C293.2 285.5 295.2 283.5 297 282C298.8 280.5 300.2 279.2 302 278C303.8 276.8 305.8 275.4 308 274.5C310.2 273.6 312.2 273.4 315 272.3C317.8 271.2 321.7 269.6 325 268C328.3 266.4 331.2 264.2 335 262.5C338.8 260.8 343.8 259.4 347.5 257.5C351.2 255.6 354.8 253.2 357.5 251C360.2 248.8 361.9 246 364 244C366.1 242 366.9 240.4 370 239C373.1 237.6 380.4 236.2 382.5 235.6"/>
<path d="M28 393.7C28 391.4 27.3 384.3 28 380C28.7 375.7 29.7 371 32 368C34.3 365 37.3 363.3 42 362C46.7 360.7 55.3 360.3 60 360C64.7 359.7 64 360.4 70 360C76 359.6 88.3 358.3 96 357.5C103.7 356.7 109.3 355.1 116 355C122.7 354.9 129.7 357 136 357C142.3 357 148.7 355.5 154 355C159.3 354.5 164 353.7 168 354C172 354.3 175.3 355.2 178 357C180.7 358.8 182 361.7 184 365C186 368.3 188 374 190 377C192 380 193.7 381.7 196 383C198.3 384.3 201.7 385.2 204 385C206.3 384.8 208.2 383.7 210 381.5C211.8 379.3 213.3 375.8 215 372C216.7 368.2 217.8 363.2 220 359C222.2 354.8 225 350.3 228 347C231 343.7 234 340.7 238 339C242 337.3 247.3 336.9 252 336.6C256.7 336.3 261.8 336.8 266 337C270.2 337.2 274.3 338.3 277 338C279.7 337.7 280.5 337.8 282 335C283.5 332.2 285 324.5 286 321C287 317.5 286.5 316.2 288 314C289.5 311.8 292.5 309.5 295 308C297.5 306.5 300.2 305.7 303 304.8C305.8 303.9 309 303.4 311.5 302.8C314 302.2 315.9 301.1 318 301.5C320.1 301.9 322.2 303.1 324 305C325.8 306.9 327.2 309.5 329 313C330.8 316.5 332.8 322 334.6 326C336.4 330 338.1 333.6 340 337C341.9 340.4 343.9 344 346 346.5C348.1 349 350.5 351.4 352.7 351.8C354.9 352.2 356.5 351.1 359 349C361.5 346.9 364.8 342.8 367.5 339C370.2 335.2 372.5 330.6 375 326C377.5 321.4 381.2 313.9 382.5 311.5"/>
<path d="M56 393.7C56.3 392.8 56.3 389.8 58 388C59.7 386.2 62.3 384 66 383C69.7 382 74.3 382 80 382C85.7 382 94 383 100 383C106 383 110 382.5 116 382C122 381.5 129.7 381 136 380C142.3 379 149.3 376.2 154 376C158.7 375.8 160.7 377.5 164 379C167.3 380.5 170.8 382.6 174 385C177.2 387.4 181.5 392.2 183 393.7"/>
<path d="M225 393.7C225.8 391.6 227.8 385.4 230 381C232.2 376.6 235.3 370.5 238 367C240.7 363.5 243 361.5 246 360C249 358.5 252.3 358.2 256 358C259.7 357.8 264 358.7 268 359C272 359.3 277 360.3 280 360C283 359.7 284 358.8 286 357C288 355.2 290 352.2 292 349C294 345.8 295.7 340.7 298 338C300.3 335.3 303.3 334 306 333C308.7 332 311.3 331.3 314 332C316.7 332.7 319.3 334.5 322 337C324.7 339.5 327.3 343.3 330 347C332.7 350.7 335.3 355.7 338 359C340.7 362.3 343.5 365.1 346 367C348.5 368.9 350.7 370.4 353 370.6C355.3 370.8 357.5 369.8 360 368C362.5 366.2 365.3 363 368 360C370.7 357 373.6 352.8 376 350C378.4 347.2 381.4 344.2 382.5 343"/>
</g>
<g fill="none" stroke="#333" stroke-width="2.1" stroke-linecap="round" stroke-linejoin="round">
<path d="M4.5 30.9C5.3 30.2 7.9 28 9.5 26.9C11.1 25.8 12.9 24.6 14.2 24.5C15.4 24.4 16.5 25.1 17 26C17.5 26.9 17.6 27.8 17 30C16.4 32.2 14.1 36.5 13.4 39.5C12.7 42.5 12.6 45.2 13 48.2C13.4 51.2 14.8 55.6 15.8 57.7C16.8 59.8 18 59.8 19 61C20 62.2 20.5 63.3 22 65C23.5 66.7 25 69.2 28 71C31 72.8 36.3 74.5 40 75.5C43.7 76.5 46.7 76.5 50 77C53.3 77.5 56.7 77.8 60 78.6C63.3 79.4 67 80.6 70 82C73 83.4 75.7 85.5 78 87C80.3 88.5 82.3 90.2 84 91C85.7 91.8 86.2 91.5 88 91.7C89.8 91.9 92.8 92.2 95 92C97.2 91.8 99.5 90.5 101 90.6C102.5 90.7 102.8 91.4 104 92.5C105.2 93.6 106.7 95.4 108.5 97C110.3 98.6 113 101.3 114.7 102C116.4 102.7 117.3 102.2 118.5 101.4C119.7 100.6 120.8 98.2 122 97C123.2 95.8 124.5 94.1 126 94C127.5 93.9 129.2 95.7 131 96.4C132.8 97.1 134.5 98.2 137 98.2C139.5 98.2 143.5 96.8 146 96.3C148.5 95.8 149.9 95.2 152 95C154.1 94.8 156.2 94.7 158.5 95C160.8 95.3 162.4 96.2 165.8 96.7C169.2 97.2 175.4 97.8 178.8 98.1C182.2 98.4 181.3 98.9 186 98.4C190.7 97.9 200.3 96.6 207 95C213.7 93.4 220.5 90.2 226 89C231.5 87.8 235.6 88.2 240 87.5C244.4 86.8 248.3 85.8 252.5 85C256.7 84.2 260.8 83.7 265 83C269.2 82.3 273.8 81.8 277.5 80.6C281.2 79.4 284.8 77.8 287.5 76C290.2 74.2 292.1 72 294 70C295.9 68 296.8 65.8 299 64C301.2 62.2 304 60.2 307.5 59C311 57.8 314.8 57.6 320 57C325.2 56.4 334.7 56.1 339 55.6C343.3 55.1 344.1 54.8 346 54C347.9 53.2 348.9 52.6 350.3 50.8C351.7 49 353.8 45.6 354.6 43C355.5 40.4 355.2 37.5 355.4 35C355.6 32.5 355.4 30.2 356 27.7C356.6 25.2 357.7 22.1 359 20C360.3 17.9 361.9 16.5 364 15.4C366.1 14.3 368.5 14.2 371.6 13.4C374.7 12.6 380.7 11.1 382.5 10.7"/>
<path d="M4.5 305C6.4 305.7 11.8 307.7 16 309C20.2 310.3 24.3 312.7 30 313C35.7 313.3 44.3 311.2 50 311C55.7 310.8 60 311.7 64 312C68 312.3 71.3 313.2 74 313C76.7 312.8 77.3 311.7 80 311C82.7 310.3 86.7 309 90 309C93.3 309 96.7 311 100 311C103.3 311 106.7 308.9 110 309C113.3 309.1 115.7 310.3 120 311.5C124.3 312.7 131.3 315.8 136 316C140.7 316.2 144.3 313.8 148 313C151.7 312.2 154.7 310.8 158 311C161.3 311.2 164.3 312.8 168 314C171.7 315.2 176.3 317.2 180 318C183.7 318.8 187.3 318.6 190 318.5C192.7 318.4 194.3 317.7 196 317.7C197.7 317.7 198.8 317.8 200 318.5C201.2 319.2 201.9 320.4 203 322C204.1 323.6 205.2 326.8 206.3 328.4C207.4 330 208.4 331.1 209.4 331.8C210.4 332.5 211.5 332.9 212.5 332.8C213.5 332.7 214.6 332.2 215.5 331.2C216.4 330.2 216.9 328.3 218 326.8C219.1 325.3 220.7 323.5 222 322C223.3 320.5 224.5 319 226 318C227.5 317 229 316.4 230.8 316C232.6 315.6 234.8 315.7 237 315.7C239.2 315.7 241.4 316.1 244 315.9C246.6 315.7 249.6 315.2 252.3 314.5C255 313.8 257.9 311.9 260 311.7C262.1 311.4 263 312.1 264.7 313C266.4 313.9 268.8 316.4 270.3 317.2C271.9 318 273.4 317.9 274 318"/>
<path d="M277.7 307.8C278.4 307.5 280.8 306.6 282 305.8C283.2 305 284.3 304.1 285 303C285.7 301.9 285.3 300.2 286 299C286.7 297.8 287.5 296.7 289 295.7C290.5 294.7 292.8 294.1 295 293C297.2 291.9 299.6 289.8 302 289C304.4 288.2 307.2 288.3 309.4 288C311.6 287.7 312.8 288.3 315 287C317.2 285.7 320.2 281.7 322.5 280C324.8 278.3 327 277.6 328.7 277C330.4 276.4 331.9 276.3 332.5 276.2"/>
<path d="M356.2 263.7C357.2 262.9 360.2 260.8 362.5 258.7C364.8 256.6 367.7 253.1 370 251.2C372.3 249.3 374.1 248.3 376.2 247.5C378.3 246.7 381.4 246.4 382.5 246.2"/>
</g>
<g fill="none" stroke="#333" stroke-width="1.2">
<path d="M58.2 388.2L54.8 384.6"/>
<path d="M353.2 371.4L353.2 366"/>
</g>
<g fill="none" stroke="#666" stroke-width="1.5" stroke-dasharray="1.4 2.2">
<path d="M4.5 97C5.9 97.8 9.6 100.3 13 101.6C16.4 102.9 20.5 104.1 25 105C29.5 105.9 33.3 106.5 40 107C46.7 107.5 57.7 107.7 65 108C72.3 108.3 78.8 108.5 84 108.7C89.2 108.9 93.2 109.1 96 109.4C98.8 109.8 98.9 110 101 110.8C103.1 111.6 106 113.6 108.5 114C111 114.4 113.8 114 116 113C118.2 112 120.2 109.8 122 108C123.8 106.2 125.5 104.2 126.6 102C127.7 99.8 127.8 97.5 128.5 94.5C129.2 91.5 130.2 88.1 131 84C131.8 79.9 133 74 133.5 70C134 66 134.1 63.3 134 60C133.9 56.7 133.5 53.7 133 50C132.5 46.3 131.7 41.7 131 38C130.3 34.3 130 32 129 28C128 24 126.2 17.9 125 14C123.8 10.1 122.5 6.1 122 4.5"/>
<path d="M7 242C9.2 242.8 15.2 245 20 247C24.8 249 31 252 36 254C41 256 45.7 257.8 50 259C54.3 260.2 59 261 62 261C65 261 65.7 260.5 68 259C70.3 257.5 73.3 254.1 76 252C78.7 249.9 80.7 248 84 246.5C87.3 245 92 243.2 96 243C100 242.8 104 244.2 108 245C112 245.8 117 248.5 120 248C123 247.5 124 244 126 242C128 240 130 238.1 132 236C134 233.9 136.3 231.3 138 229.5C139.7 227.7 141.3 225.8 142 225"/>
<path d="M8 315.6C11.7 315.8 23 316.3 30 317C37 317.7 44.3 318.8 50 319.6C55.7 320.4 60.8 320.9 64 322C67.2 323.1 68.3 323.7 69 326C69.7 328.3 69.5 331.7 68 336C66.5 340.3 63.3 346.3 60 352C56.7 357.7 52.3 363.2 48 370C43.7 376.8 36.3 389.2 34 393"/>
</g>
<path d="M226.7 4.5L226.7 187L236 199L248 219L262 242.5L266.6 270L270 290L274.7 320L287 393.7L292 393.7L279.2 320L274.3 290L270.6 270L266 241L253 218L240 197L231.4 184L231.4 4.5Z" fill="#fff"/>
<path d="M226.7 4.5L226.7 187L236 199L248 219L262 242.5L266.6 270L270 290L274.7 320L287 393.7" fill="none" stroke="#333" stroke-width="1.1" stroke-linejoin="round"/>
<path d="M231.4 4.5L231.4 184L240 197L253 218L266 241L270.6 270L274.3 290L279.2 320L292 393.7" fill="none" stroke="#333" stroke-width="1.1" stroke-linejoin="round"/>
<g fill="none" stroke="#333" stroke-width="1">
<path d="M235.2 199.7L229.2 199"/>
<path d="M238.1 197L239.3 192.2"/>
<path d="M251.2 218.9L256.5 218.7"/>
<path d="M248.2 220.7L246.4 226"/>
</g>
<use href="#mw" x="56" y="144.4"/>
<use href="#mw" x="79" y="148.7"/>
<use href="#mw" x="139" y="158"/>
<use href="#mw" x="120" y="171.6"/>
<use href="#mw" x="152.4" y="172"/>
<use href="#mw" x="187" y="172.4"/>
<use href="#mw" x="219.6" y="173.6"/>
<use href="#mw" x="138" y="189"/>
<use href="#mw" x="174.6" y="189.6"/>
<use href="#mw" x="208.6" y="189.6"/>
<use href="#mw" x="163" y="207.4"/>
<use href="#mw" x="191" y="207.4"/>
<use href="#mw" x="218" y="207.4"/>
<use href="#mw" x="199.6" y="225.4"/>
<use href="#mw" x="263" y="158.4"/>
<use href="#mw" x="298" y="159"/>
<use href="#mw" x="245.6" y="179.6"/>
<use href="#mw" x="332.5" y="159.2"/>
<use href="#mw" x="365.7" y="95"/>
<use href="#mw" x="337.5" y="117"/>
<use href="#mw" x="364" y="117"/>
<use href="#mw" x="36" y="128.5"/>
<use href="#mw" x="91" y="168.5"/>
<use href="#mw" x="281.5" y="139.3"/>
<use href="#mw" x="311.6" y="139.6"/>
<use href="#mw" x="348" y="139.6"/>
<use href="#bu" x="16.4" y="161"/>
<use href="#bu" x="41" y="176"/>
<use href="#bu" x="20.6" y="199"/>
<use href="#bu" x="61" y="202"/>
<use href="#bu" x="42.6" y="220"/>
<use href="#bu" x="100" y="217"/>
<use href="#bu" x="75" y="227.4"/>
<use href="#bu" x="19.6" y="229"/>
<use href="#bu" x="126" y="227"/>
<use href="#bu" x="113.5" y="241.8"/>
<use href="#bu" x="64.6" y="250"/>
<use href="#bu" x="18" y="329.6"/>
<use href="#bu" x="55" y="331"/>
<use href="#bu" x="41" y="353"/>
<use href="#bu" x="19" y="373"/>
<path d="M296.9 177.2C302 178.2 308 178.4 313.3 178.4L313.3 179.6C308 179.9 302 179.9 296.7 179.3Z" fill="#111"/>
<path d="M317.4 178.7L312.4 175.7L313.4 178.9L312.7 181.8Z" fill="#111"/>
</g>
<rect x="61.3" y="241.5" width="45.8" height="62.8" fill="none" stroke="#8e8e8e" stroke-width="3"/>
<rect x="272.1" y="84.6" width="45.6" height="62.4" fill="none" stroke="#8e8e8e" stroke-width="3"/>
<rect x="212.5" y="258.1" width="46" height="62.4" fill="none" stroke="#8e8e8e" stroke-width="3"/>
<rect x="4.5" y="4.5" width="378.0" height="389.2" fill="none" stroke="#222" stroke-width="1.3"/>
<path d="M26.9 81.8V50" stroke="#111" stroke-width="2.8" fill="none"/>
<path d="M26.9 34.5L22 52H31.8Z" fill="#111"/>
<text x="22" y="30" font-size="16.5" textLength="10.5" lengthAdjust="spacingAndGlyphs">С</text>
<text x="20.3" y="100" font-size="16.5" textLength="12.6" lengthAdjust="spacingAndGlyphs">Ю</text>
<circle cx="88.1" cy="91.6" r="2.6" fill="#111"/>
<text class="pt" x="94.6" y="88" font-size="26">А</text>
<circle cx="70.4" cy="363" r="2.6" fill="#111"/>
<text class="pt" x="77.2" y="368" font-size="27.5" textLength="17" lengthAdjust="spacingAndGlyphs">В</text>
<use href="#tree" x="63.9" y="45.5"/>
<text x="74.3" y="45" font-size="15.5" font-style="italic" textLength="22" lengthAdjust="spacingAndGlyphs">дуб</text>
<circle cx="88.1" cy="151.9" r="2.6" fill="#111"/>
<path d="M89 153C90.6 156 87.6 158.6 89 162.6" fill="none" stroke="#111" stroke-width="1.5" stroke-linecap="round"/>
<text x="96" y="160" font-size="16" font-style="italic" textLength="28.5" lengthAdjust="spacingAndGlyphs">род.</text>
<text transform="translate(88.5,189.6) rotate(31)" font-size="15.2" font-style="italic" class="lt" textLength="60.5" lengthAdjust="spacing">р. Соть</text>
<rect x="180" y="89" width="25.5" height="14" fill="#fff"/>
<text x="181" y="102.6" font-size="16" fill="#111" textLength="23" lengthAdjust="spacingAndGlyphs">100</text>
<rect x="192.5" y="152" width="18" height="14" fill="#fff"/>
<text x="193" y="164.8" font-size="16" fill="#111" textLength="16.6" lengthAdjust="spacingAndGlyphs">85</text>
<rect x="30.5" y="236" width="19.5" height="14" fill="#fff" transform="rotate(11 40 243)"/>
<text transform="translate(49.8,239.5) rotate(191)" font-size="16" fill="#111" textLength="16.6" lengthAdjust="spacingAndGlyphs">85</text>
<text transform="translate(345.6,270.6) rotate(163)" x="-11.5" y="5.7" font-size="16.5" textLength="23" lengthAdjust="spacingAndGlyphs">100</text>
<clipPath id="c1"><path d="M60 250H110V282.4H88.2V290H81.8V282.4H60Z"/></clipPath>
<text class="num" x="72.6" y="287.1" font-size="42" clip-path="url(#c1)">1</text>
<text class="num" x="284" y="130" font-size="44" textLength="21" lengthAdjust="spacingAndGlyphs">2</text>
<text class="num" x="224" y="305" font-size="43.5" textLength="21" lengthAdjust="spacingAndGlyphs">3</text>

<g>
<circle cx="421.6" cy="67.9" r="2.4" fill="#111"/>
<path d="M422.4 68.8C424 72.2 427 73.6 430.4 72.4" fill="none" stroke="#111" stroke-width="1.6" stroke-linecap="round"/>
<text x="429" y="64.4" font-size="15.5" font-style="italic" textLength="29.5" lengthAdjust="spacingAndGlyphs">род.</text>
<text x="488.6" y="74.4" font-size="17.4" fill="#111" textLength="62.6" lengthAdjust="spacingAndGlyphs">Родник</text>

<rect x="411.3" y="94.1" width="51.5" height="34.4" fill="#fff" stroke="#333" stroke-width="1.3"/>
<path d="M411.3 109.1H462.8M411.3 113.8H462.8" stroke="#666" stroke-width="1.1" fill="none"/>
<text x="489" y="119.1" font-size="17.4" fill="#111" textLength="58" lengthAdjust="spacingAndGlyphs">Шоссе</text>

<rect x="411.5" y="147.1" width="51.6" height="34.4" fill="#fff" stroke="#333" stroke-width="1.3"/>
<path d="M427.2 147.1C429.5 158 431 170 433.6 181.5H443.4C440.8 170 439.3 158 437.8 147.1Z" fill="#d9d9d9" stroke="#444" stroke-width="1"/>
<rect x="423.8" y="162.2" width="23.6" height="2.9" fill="#fff"/>
<path d="M411.5 161.7H462.9M411.5 165.7H462.9" stroke="#555" stroke-width="1.1" fill="none"/>
<path d="M423.8 161.7L420.6 157.8M423.8 165.7L421 170.4M447.4 161.7L450.2 157.6M447.4 165.7L450.6 170" stroke="#333" stroke-width="1.2" fill="none"/>
<text x="491.3" y="172" font-size="17.4" fill="#111" textLength="43.3" lengthAdjust="spacingAndGlyphs">Мост</text>

<rect x="411.3" y="201.9" width="51.6" height="34.6" fill="#d9d9d9" stroke="#3a3a3a" stroke-width="1.3"/>
<use href="#tree" x="433.6" y="228"/>
<text x="438" y="217.3" font-size="14" font-style="italic" textLength="22.4" lengthAdjust="spacingAndGlyphs">дуб</text>
<text x="488" y="227.6" font-size="17.4" fill="#111" textLength="32.7" lengthAdjust="spacingAndGlyphs">Лес</text>

<rect x="411.3" y="258.1" width="51.6" height="34.4" fill="#fff" stroke="#333" stroke-width="1.3"/>
<use href="#mw" x="422.8" y="266.3"/><use href="#mw" x="452" y="266.3"/><use href="#mw" x="436" y="286.3"/>
<text x="488" y="282" font-size="17.4" fill="#111" textLength="30.5" lengthAdjust="spacingAndGlyphs">Луг</text>

<rect x="411.3" y="311.6" width="51.6" height="34.6" fill="#fff" stroke="#333" stroke-width="1.3"/>
<use href="#bu" x="426.2" y="324"/><use href="#bu" x="449" y="334.7"/>
<text x="489" y="335.4" font-size="17.4" fill="#111" textLength="88" lengthAdjust="spacingAndGlyphs">Кустарник</text>
</g>


<g>
<text x="127.5" y="418.7" font-size="16.3" textLength="132" lengthAdjust="spacingAndGlyphs">Масштаб 1:10 000</text>
<text x="148" y="439.5" font-size="16.3" textLength="91" lengthAdjust="spacingAndGlyphs">В 1 см 100 м</text>
<text x="97.2" y="460" font-size="16.3" textLength="21.3" lengthAdjust="spacingAndGlyphs">100</text>
<text x="160.9" y="460" font-size="16.3" textLength="6.8" lengthAdjust="spacingAndGlyphs">0</text>
<text x="212" y="460" font-size="16.3" textLength="21.3" lengthAdjust="spacingAndGlyphs">100</text>
<text x="267.5" y="460" font-size="16.3" textLength="22" lengthAdjust="spacingAndGlyphs">200</text>
<path d="M107.1 469.5H279.3M107.1 475.3H279.3" stroke="#333" stroke-width="0.9" fill="none"/>
<path d="M107.1 463.5V475.8M164.4 463.5V475.8M221.3 463.5V475.8M279.3 463.5V475.8" stroke="#222" stroke-width="1" fill="none"/>
<path d="M118.7 466.3V476M130 466.3V476M141.9 466.3V476M152.3 466.3V476" stroke="#222" stroke-width="1" fill="none"/>
<path d="M113 469.2V473M135.6 469.2V473M158 469.2V473" stroke="#222" stroke-width="1" fill="none"/>
<rect x="106.7" y="473" width="12.4" height="3.2"/><rect x="129.6" y="473" width="12.7" height="3.2"/><rect x="152" y="473" width="12.8" height="3.2"/>
<text x="42.5" y="496.3" font-size="16.3" textLength="302" lengthAdjust="spacingAndGlyphs">Горизонтали проведены через 2,5 метра</text>
</g>

</svg>
</body></html>
